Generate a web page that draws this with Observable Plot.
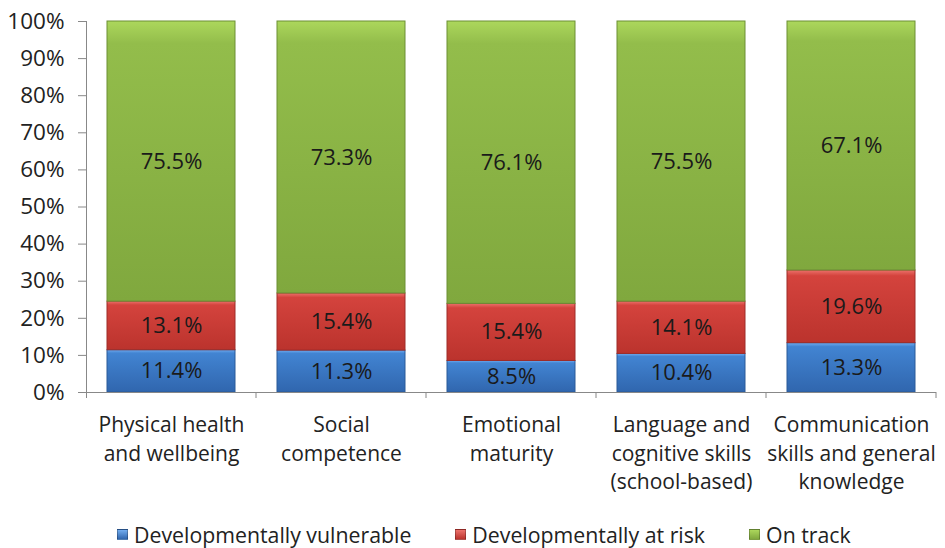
<!DOCTYPE html>
<html>
<head>
<meta charset="utf-8">
<script src="https://cdn.jsdelivr.net/npm/d3@7"></script>
<script src="https://cdn.jsdelivr.net/npm/@observablehq/plot@0.6"></script>
<style>
  html, body { margin: 0; padding: 0; background: #fff; }
  #chart { width: 945px; height: 548px; position: relative; font-family: "Open Sans", sans-serif; }
  .legend { position: absolute; top: 520px; left: 117px; display: flex; gap: 44px; font-size: 21.3px; color: #222; align-items: center; }
  .legend .item { display: flex; align-items: center; gap: 6px; }
  .legend .sw { width: 11px; height: 11px; display: inline-block; border: 1px solid rgba(0,0,0,0.25); box-sizing: border-box; }
</style>
</head>
<body>
<div id="chart"></div>
<script>
const categories = [
  "Physical health\nand wellbeing",
  "Social\ncompetence",
  "Emotional\nmaturity",
  "Language and\ncognitive skills\n(school-based)",
  "Communication\nskills and general\nknowledge"
];
const series = ["Developmentally vulnerable", "Developmentally at risk", "On track"];
const vulnerable = [11.4, 11.3, 8.5, 10.4, 13.3];
const atRisk = [13.1, 15.4, 15.4, 14.1, 19.6];
const onTrack = [75.5, 73.3, 76.1, 75.5, 67.1];
const yTicks = [0, 10, 20, 30, 40, 50, 60, 70, 80, 90, 100];

const gradIds = ["gBlue", "gRed", "gGreen"];
const seriesColors = [
  {top: "#72adf0", mid: "#4284d2", bot: "#3066ae", stroke: "#2a5a98"},
  {top: "#ec726c", mid: "#d4433d", bot: "#bb332d", stroke: "#9e2c28"},
  {top: "#acd75c", mid: "#93bd4b", bot: "#80a83e", stroke: "#6c8f35"}
];

const values = [vulnerable, atRisk, onTrack];
const data = [];
series.forEach((s, si) => {
  categories.forEach((c, ci) => {
    data.push({category: c, series: s, si, value: values[si][ci]});
  });
});

const stackOpts = {x: "category", y: "value", z: "series", order: series};

const chart = Plot.plot({
  width: 945,
  height: 505,
  marginLeft: 86,
  marginRight: 9,
  marginTop: 21,
  marginBottom: 113,
  style: {fontFamily: "Open Sans, sans-serif", fontSize: "19px", color: "#222", background: "#fff"},
  x: {domain: categories, paddingInner: 0.25, paddingOuter: 0.125, label: null},
  y: {domain: [0, 100], label: null},
  marks: [
    Plot.barY(data, Plot.stackY({
      ...stackOpts,
      fill: d => `url(#${gradIds[d.si]})`,
      stroke: d => seriesColors[d.si].stroke,
      strokeWidth: 1
    })),
    Plot.text(data, Plot.stackY({
      ...stackOpts,
      text: d => d.value.toFixed(1) + "%",
      fill: "#1a1a1a",
      fontSize: 22
    })),
    Plot.ruleY([0], {stroke: "#888"}),
    Plot.axisY({
      ticks: yTicks,
      tickFormat: d => d + "%",
      tickSize: 8,
      tickPadding: 14,
      fontSize: 22.5,
      stroke: "#888",
      color: "#222"
    }),
    Plot.axisX({
      tickSize: 0,
      tickPadding: 19,
      fontSize: 21,
      lineHeight: 1.37,
      lineAnchor: "top",
      color: "#222"
    })
  ]
});

// gradient defs
const svg = d3.select(chart);
const defs = svg.insert("defs", ":first-child");
seriesColors.forEach((c, i) => {
  const g = defs.append("linearGradient").attr("id", gradIds[i])
    .attr("x1", 0).attr("y1", 0).attr("x2", 0).attr("y2", 1);
  g.append("stop").attr("offset", "0%").attr("stop-color", c.top);
  g.append("stop").attr("offset", "8%").attr("stop-color", c.mid);
  g.append("stop").attr("offset", "100%").attr("stop-color", c.bot);
});

// axis lines and category separators from the scales
const xs = chart.scale("x");
const ys = chart.scale("y");
const step = xs.step, bw = xs.bandwidth;
const half = (step - bw) / 2;
const bounds = categories.map(c => xs.apply(c) - half);
bounds.push(xs.apply(categories[categories.length - 1]) + bw + half);
const y0 = ys.apply(0), y100 = ys.apply(100);
const g = svg.append("g").attr("stroke", "#888").attr("stroke-width", 1);
g.append("line").attr("x1", bounds[0] + 0.5).attr("x2", bounds[0] + 0.5).attr("y1", y100).attr("y2", y0 + 6);
bounds.slice(1).forEach(b => {
  g.append("line").attr("x1", b).attr("x2", b).attr("y1", y0).attr("y2", y0 + 6);
});

const container = document.getElementById("chart");
container.appendChild(chart);

const legend = document.createElement("div");
legend.className = "legend";
series.forEach((s, i) => {
  const item = document.createElement("div");
  item.className = "item";
  const sw = document.createElement("span");
  sw.className = "sw";
  sw.style.background = `linear-gradient(${seriesColors[i].top}, ${seriesColors[i].bot})`;
  const t = document.createElement("span");
  t.textContent = s;
  item.appendChild(sw);
  item.appendChild(t);
  legend.appendChild(item);
});
container.appendChild(legend);
</script>
</body>
</html>
